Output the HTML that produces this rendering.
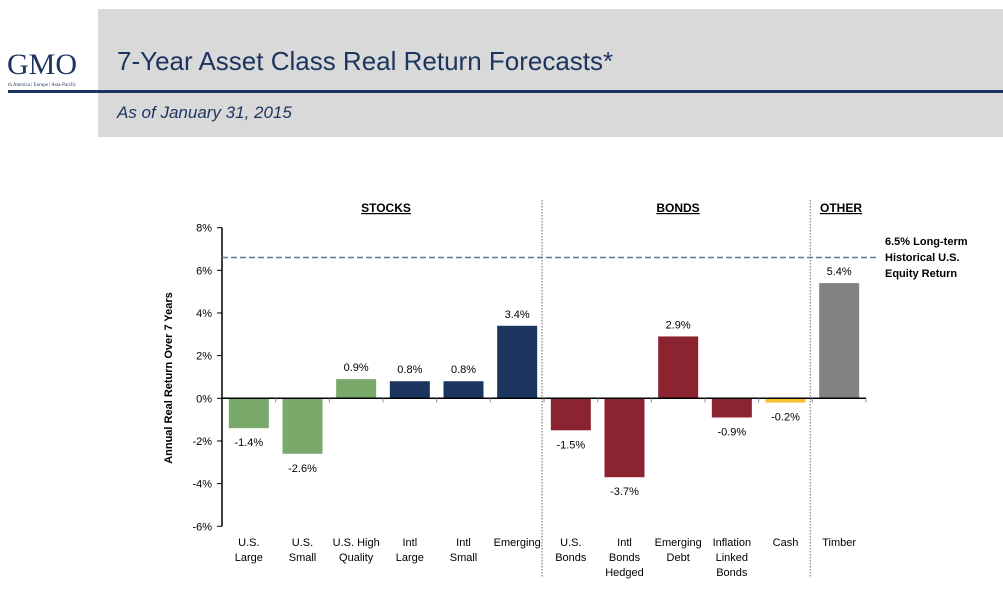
<!DOCTYPE html>
<html><head><meta charset="utf-8"><style>
body{margin:0;width:1003px;height:613px;background:#fff;overflow:hidden;font-family:"Liberation Sans",sans-serif;position:relative}
.hdr{position:absolute;left:98px;top:9px;width:905px;height:128px;background:#d9d9d9}
.rule{position:absolute;left:8px;top:90px;width:995px;height:3px;background:#1c355e}
.title{position:absolute;left:117px;top:46px;font-size:26px;color:#1c355e}
.sub{position:absolute;left:117px;top:103px;font-size:17px;font-style:italic;color:#1c355e}
.logo{position:absolute;left:7px;top:48px;font-family:"Liberation Serif",serif;font-size:30px;color:#1c355e}
.tag{position:absolute;left:8px;top:83px;font-family:"Liberation Serif",serif;font-size:5px;color:#1c355e}
</style></head><body>
<div class="hdr"></div>
<div class="rule"></div>
<div class="logo">GMO</div>
<div class="tag">th America | Europe | Asia-Pacific</div>
<div class="title">7-Year Asset Class Real Return Forecasts*</div>
<div class="sub">As of January 31, 2015</div>
<svg id="chart" width="1003" height="613" style="position:absolute;left:0;top:0"></svg>
<script>
const categories=[["U.S.","Large"],["U.S.","Small"],["U.S. High","Quality"],["Intl","Large"],["Intl","Small"],["Emerging"],["U.S.","Bonds"],["Intl","Bonds","Hedged"],["Emerging","Debt"],["Inflation","Linked","Bonds"],["Cash"],["Timber"]];
const values=[-1.4,-2.6,0.9,0.8,0.8,3.4,-1.5,-3.7,2.9,-0.9,-0.2,5.4];
const valueLabels=["-1.4%","-2.6%","0.9%","0.8%","0.8%","3.4%","-1.5%","-3.7%","2.9%","-0.9%","-0.2%","5.4%"];
const colors=["#79a96b","#79a96b","#79a96b","#1c355e","#1c355e","#1c355e","#8b2331","#8b2331","#8b2331","#8b2331","#f5c232","#828282"];
const yTicks=[8,6,4,2,0,-2,-4,-6];
const yTickLabels=["8%","6%","4%","2%","0%","-2%","-4%","-6%"];
const benchmark=6.6;
const svg=document.getElementById('chart');
const NS="http://www.w3.org/2000/svg";
const x0=222,x1=866,cw=(x1-x0)/12;
function y(v){return 398.3-v*21.33;}
function add(tag,attrs,txt){const e=document.createElementNS(NS,tag);for(const k in attrs)e.setAttribute(k,attrs[k]);if(txt!==undefined)e.textContent=txt;svg.appendChild(e);return e;}
let ax=add('line',{x1:x0,y1:y(8),x2:x0,y2:y(-6),stroke:'#000','stroke-width':1.5});


yTicks.forEach((t,i)=>{
 let tk=add('line',{x1:x0-5,y1:y(t),x2:x0,y2:y(t),stroke:'#000'});
 
 
 let tl=add('text',{x:x0-10,y:y(t)+4,'text-anchor':'end','font-size':11},yTickLabels[i]);
 
 
});
let yt=add('text',{x:0,y:0,transform:'translate(172,378) rotate(-90)','text-anchor':'middle','font-size':11,'font-weight':'bold'},'Annual Real Return Over 7 Years');


[6,11].forEach(i=>{
 let s=add('line',{x1:x0+cw*i-2,y1:200,x2:x0+cw*i-2,y2:578,stroke:'#999','stroke-dasharray':'1.5,1.5','stroke-width':1.5});
 
 
});
values.forEach((v,i)=>{
 const cx=x0+cw*(i+0.5);
 let r=add('rect',{x:cx-20,y:Math.min(y(v),y(0)),width:40,height:Math.abs(y(v)-y(0)),fill:colors[i]});
 
 
 const ly=v>=0?y(v)-8:y(v)+18;
 let l=add('text',{x:cx,y:ly,'text-anchor':'middle','font-size':11},valueLabels[i]);
 
 
 categories[i].forEach((ln,j)=>{
  let c=add('text',{x:cx,y:546+j*15,'text-anchor':'middle','font-size':11},ln);
  
  
 });
});
let za=add('line',{x1:x0,y1:y(0),x2:x1,y2:y(0),stroke:'#000','stroke-width':1.5});


for(let i=1;i<=12;i++){
 let t=add('line',{x1:x0+cw*i,y1:y(0),x2:x0+cw*i,y2:y(0)+4,stroke:'#888'});
 
 
}
let bl=add('line',{x1:x0,y1:y(benchmark),x2:876,y2:y(benchmark),stroke:'#5b7a90','stroke-width':1.5,'stroke-dasharray':'6,3'});


["6.5% Long-term","Historical U.S.","Equity Return"].forEach((t,j)=>{
 let e=add('text',{x:885,y:245+j*16,'font-size':11,'font-weight':'bold'},t);
 
 
});
[["STOCKS",386],["BONDS",678],["OTHER",841]].forEach(([t,x])=>{
 let e=add('text',{x:x,y:212,'text-anchor':'middle','font-size':12,'font-weight':'bold','text-decoration':'underline'},t);
 
 
});
</script>
</body></html>
